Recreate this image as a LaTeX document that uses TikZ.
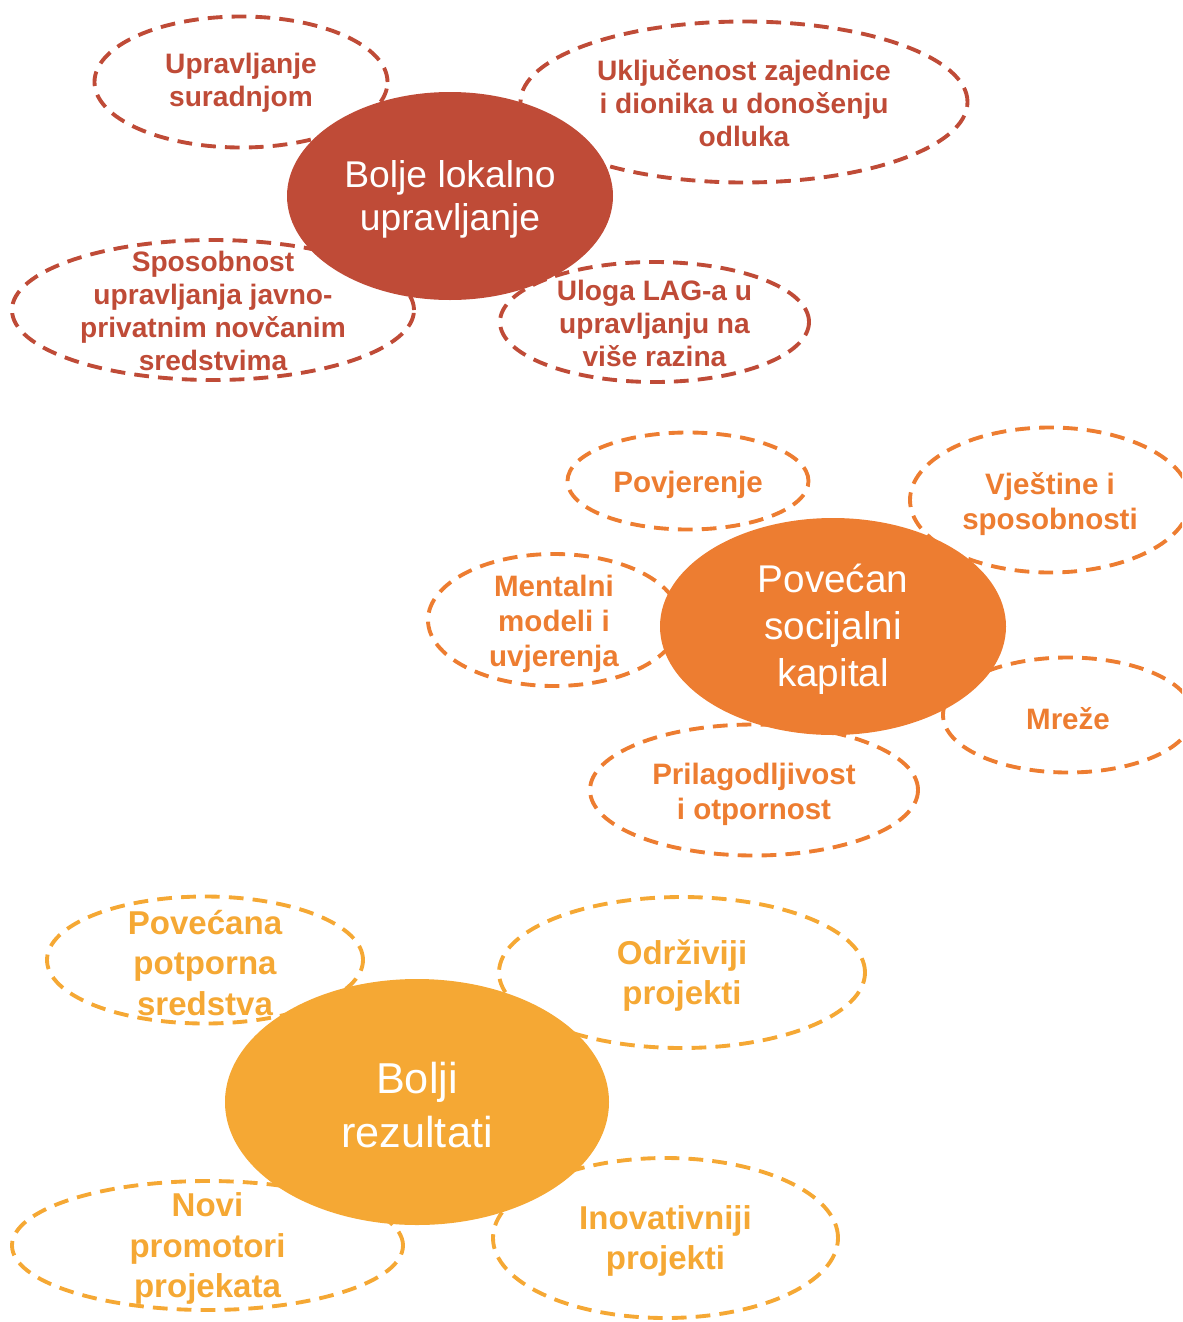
\documentclass[tikz,border=0pt]{standalone}
\usepackage{fontspec}
\setmainfont{Liberation Sans}
\usetikzlibrary{shapes.geometric}

\definecolor{lokalred}{RGB}{191,75,55}
\definecolor{kapitalorange}{RGB}{237,125,49}
\definecolor{rezultatgold}{RGB}{245,168,52}

\tikzset{
  dashell/.style={ellipse, draw=#1, dash pattern=on 4.2pt off 2.6pt, line width=1.1pt, inner sep=0pt},
  mainell/.style={ellipse, fill=#1, inner sep=0pt},
  lokalsub/.style={text=lokalred, align=center, inner sep=0pt, yshift=-0.01cm, font=\fontsize{8}{9.4}\selectfont\bfseries},
  kapitalsub/.style={text=kapitalorange, align=center, inner sep=0pt, yshift=-0.04cm, font=\fontsize{8.4}{10}\selectfont\bfseries},
  rezultatsub/.style={text=rezultatgold, align=center, inner sep=0pt, yshift=-0.03cm, font=\fontsize{9.4}{11.4}\selectfont\bfseries},
  maintxt/.style={text=white, align=center, inner sep=0pt, yshift=-0.03cm}
}

\begin{document}
\begin{tikzpicture}
    \useasboundingbox (0,0) rectangle (11.82,-13.22);
    \clip (0,0) rectangle (11.82,-13.22);

    % Bolje lokalno upravljanje
    \node[dashell=lokalred, minimum width=2.93cm, minimum height=1.31cm] (surad) at (2.41,-0.82) {};
    \node[dashell=lokalred, minimum width=4.47cm, minimum height=1.61cm] (ukljuc) at (7.44,-1.02) {};
    \node[dashell=lokalred, minimum width=4.02cm, minimum height=1.40cm] (sposob) at (2.13,-3.10) {};
    \node[dashell=lokalred, minimum width=3.09cm, minimum height=1.20cm] (uloga) at (6.545,-3.22) {};
    \node[mainell=lokalred, minimum width=3.26cm, minimum height=2.08cm] (lokal) at (4.50,-1.96) {};

    \node[lokalsub] (surad-t) at (surad) {Upravljanje\\suradnjom};
    \node[lokalsub] (ukljuc-t) at (ukljuc) {Uključenost zajednice\\i dionika u donošenju\\odluka};
    \node[lokalsub] (sposob-t) at (sposob) {Sposobnost\\upravljanja javno-\\privatnim novčanim\\sredstvima};
    \node[lokalsub] (uloga-t) at (uloga) {Uloga LAG-a u\\upravljanju na\\više razina};
    \node[maintxt, font=\fontsize{10.6}{12.2}\selectfont] (lokal-t) at (lokal) {Bolje lokalno\\upravljanje};

    % Povećan socijalni kapital
    \node[dashell=kapitalorange, minimum width=2.41cm, minimum height=0.97cm] (povjer) at (6.88,-4.81) {};
    \node[dashell=kapitalorange, minimum width=2.80cm, minimum height=1.45cm] (vjest) at (10.50,-5.00) {};
    \node[dashell=kapitalorange, minimum width=2.52cm, minimum height=1.32cm] (mental) at (5.54,-6.20) {};
    \node[dashell=kapitalorange, minimum width=2.50cm, minimum height=1.15cm] (mreze) at (10.68,-7.15) {};
    \node[dashell=kapitalorange, minimum width=3.28cm, minimum height=1.31cm] (prilag) at (7.54,-7.90) {};
    \node[mainell=kapitalorange, minimum width=3.46cm, minimum height=2.17cm] (kapital) at (8.33,-6.265) {};

    \node[kapitalsub] (povjer-t) at (povjer) {Povjerenje};
    \node[kapitalsub] (vjest-t) at (vjest) {Vještine i\\sposobnosti};
    \node[kapitalsub] (mental-t) at (mental) {Mentalni\\modeli i\\uvjerenja};
    \node[kapitalsub] (mreze-t) at (mreze) {Mreže};
    \node[kapitalsub] (prilag-t) at (prilag) {Prilagodljivost\\i otpornost};
    \node[maintxt, font=\fontsize{11}{13.4}\selectfont] (kapital-t) at (kapital) {Povećan\\socijalni\\kapital};

    % Bolji rezultati
    \node[dashell=rezultatgold, minimum width=3.16cm, minimum height=1.27cm] (potpor) at (2.05,-9.60) {};
    \node[dashell=rezultatgold, minimum width=3.66cm, minimum height=1.51cm] (odrziv) at (6.82,-9.725) {};
    \node[dashell=rezultatgold, minimum width=3.91cm, minimum height=1.29cm] (promot) at (2.075,-12.455) {};
    \node[dashell=rezultatgold, minimum width=3.45cm, minimum height=1.60cm] (inovat) at (6.655,-12.38) {};
    \node[mainell=rezultatgold, minimum width=3.84cm, minimum height=2.46cm] (rezult) at (4.17,-11.02) {};

    \node[rezultatsub] (potpor-t) at (potpor) {Povećana\\potporna\\sredstva};
    \node[rezultatsub] (odrziv-t) at (odrziv) {Održiviji\\projekti};
    \node[rezultatsub] (promot-t) at (promot) {Novi\\promotori\\projekata};
    \node[rezultatsub] (inovat-t) at (inovat) {Inovativniji\\projekti};
    \node[maintxt, font=\fontsize{12.3}{15.4}\selectfont] (rezult-t) at (rezult) {Bolji\\rezultati};
\end{tikzpicture}
\end{document}
